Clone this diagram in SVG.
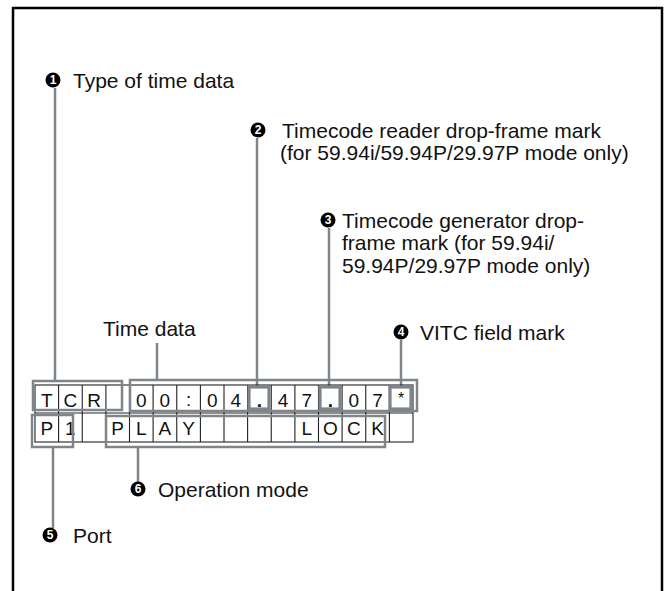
<svg xmlns="http://www.w3.org/2000/svg" width="664" height="591" viewBox="0 0 664 591">
<style>
.lbl{font-family:"Liberation Sans",Arial,sans-serif;font-size:21px;fill:#111}
.num{font-family:"Liberation Sans",Arial,sans-serif;font-size:12px;font-weight:bold;fill:#fff;text-anchor:middle}
.dot{fill:#000}
.cell{font-family:"Liberation Sans",Arial,sans-serif;font-size:19px;fill:#111;text-anchor:middle}
.grid{fill:none;stroke:#222;stroke-width:1.1}
.br{fill:none;stroke:#7d848a;stroke-width:2.5}
.mk{fill:none;stroke:#7d848a;stroke-width:3.2}
.con{stroke:#7d848a;stroke-width:2.5;fill:none}
</style>
<path d="M13,591 V8 H662 V591" fill="none" stroke="#000" stroke-width="2.5"/>
<g id="connectors">
<line class="con" x1="55" y1="88" x2="55" y2="381"/>
<line class="con" x1="257" y1="138" x2="257" y2="387"/>
<line class="con" x1="329" y1="228" x2="329" y2="387"/>
<line class="con" x1="157" y1="343" x2="157" y2="380"/>
<line class="con" x1="401" y1="340" x2="401" y2="387"/>
<line class="con" x1="53" y1="447" x2="53" y2="528"/>
<line class="con" x1="138" y1="447" x2="138" y2="482"/>
</g>
<g id="lcd">
<rect class="grid" x="35" y="385" width="378" height="57"/>
<line class="grid" x1="35" y1="413" x2="413" y2="413"/>
<path class="grid" d="M58.6,385V442 M82.25,385V442 M105.9,385V442 M129.5,385V442 M153.1,385V442 M176.75,385V442 M200.4,385V442 M224,385V442 M247.6,385V442 M271.25,385V442 M294.9,385V442 M318.5,385V442 M342.1,385V442 M365.75,385V442 M389.4,385V442"/>
<g class="cell">
<text x="46.8" y="407">T</text><text x="70.4" y="407">C</text><text x="94.1" y="407">R</text>
<text x="141.3" y="407">0</text><text x="164.9" y="407">0</text><text x="188.6" y="406">:</text><text x="212.2" y="407">0</text><text x="235.8" y="407">4</text>
<text x="259.4" y="407" font-weight="bold">.</text><text x="283.1" y="407">4</text><text x="306.7" y="407">7</text><text x="330.3" y="407" font-weight="bold">.</text><text x="353.9" y="407">0</text><text x="377.6" y="407">7</text><text x="401.2" y="404" font-size="16">*</text>
<text x="46.8" y="435">P</text><text x="70.4" y="435">1</text>
<text x="117.7" y="435">P</text><text x="141.3" y="435">L</text><text x="164.9" y="435">A</text><text x="188.6" y="435">Y</text>
<text x="306.7" y="435">L</text><text x="330.3" y="435">O</text><text x="353.9" y="435">C</text><text x="377.6" y="435">K</text>
</g>
</g>
<g id="n1">
<rect class="br" x="33" y="381" width="89" height="29"/>
<circle class="dot" cx="53" cy="80" r="7.5"/><text class="num" x="53" y="84.3">1</text>
<text class="lbl" x="73" y="88">Type of time data</text>
</g>
<g id="n2">
<rect class="mk" x="249" y="387" width="20" height="22"/>
<circle class="dot" cx="258" cy="130" r="7.5"/><text class="num" x="258" y="134.3">2</text>
<text class="lbl" x="282" y="137.5">Timecode reader drop-frame mark</text>
<text class="lbl" x="280" y="159.5">(for 59.94i/59.94P/29.97P mode only)</text>
</g>
<g id="n3">
<rect class="mk" x="320" y="387" width="20" height="22"/>
<circle class="dot" cx="328" cy="220" r="7.5"/><text class="num" x="328" y="224.3">3</text>
<text class="lbl" x="342" y="227.5">Timecode generator drop-</text>
<text class="lbl" x="342" y="250">frame mark (for 59.94i/</text>
<text class="lbl" x="342" y="272.5">59.94P/29.97P mode only)</text>
</g>
<g id="timedata">
<rect class="br" x="130" y="380" width="287" height="31"/>
<text class="lbl" x="103" y="335.5">Time data</text>
</g>
<g id="n4">
<rect class="mk" x="390" y="387" width="21" height="22"/>
<circle class="dot" cx="401" cy="332" r="7.5"/><text class="num" x="401" y="336.3">4</text>
<text class="lbl" x="420" y="339.5">VITC field mark</text>
</g>
<g id="n5">
<rect class="br" x="32" y="415" width="41" height="32"/>
<circle class="dot" cx="50" cy="535" r="7.5"/><text class="num" x="50" y="539.3">5</text>
<text class="lbl" x="73" y="543">Port</text>
</g>
<g id="n6">
<rect class="br" x="106" y="416" width="279" height="31"/>
<circle class="dot" cx="138" cy="489" r="7.5"/><text class="num" x="138" y="493.3">6</text>
<text class="lbl" x="158" y="496.5">Operation mode</text>
</g>
</svg>
